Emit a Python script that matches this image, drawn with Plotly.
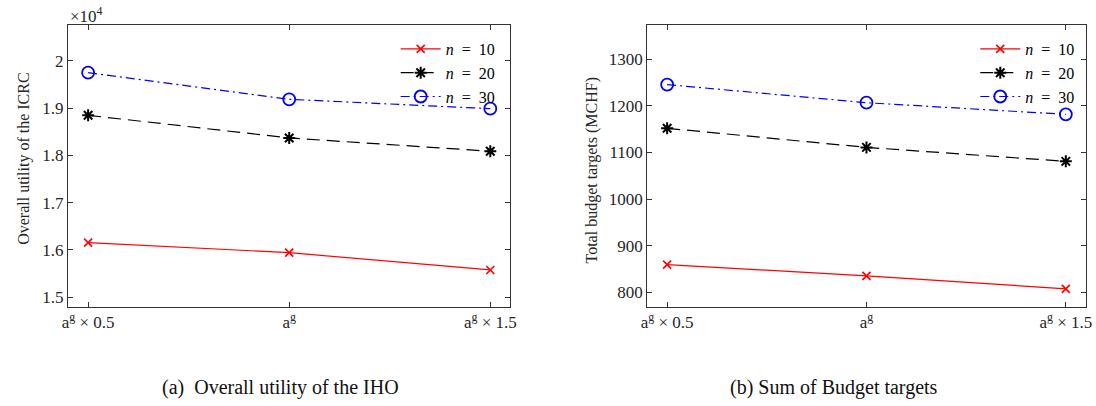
import plotly.graph_objects as go

# ---------------- data ----------------
categories = ["a<sup>g</sup> × 0.5", "a<sup>g</sup>", "a<sup>g</sup> × 1.5"]
series_names = ["<i>n</i>\u00a0\u00a0=\u00a0\u00a010", "<i>n</i>\u00a0\u00a0=\u00a0\u00a020",
                "<i>n</i>\u00a0\u00a0=\u00a0\u00a030"]

# (a) Overall utility (absolute values)
utility_n10 = [16155, 15943, 15578]
utility_n20 = [18846, 18367, 18086]
utility_n30 = [19747, 19184, 18986]

# (b) Total budget targets (MCHF)
budget_n10 = [859, 835, 807]
budget_n20 = [1152, 1111, 1081]
budget_n30 = [1246, 1207, 1182]

utility_ticks = [15000, 16000, 17000, 18000, 19000, 20000]
utility_ticktext = ["1.5", "1.6", "1.7", "1.8", "1.9", "2"]
budget_ticks = [800, 900, 1000, 1100, 1200, 1300]

# ---------------- styles ----------------
W, H = 1096, 406
FONT = "Liberation Serif, Times New Roman, serif"
AX = "#333333"
styles = [
    dict(color="#FF0000", dash="solid", symbol="x-thin-open", size=8, mlw=1.6),
    dict(color="#000000", dash="13px,7px", symbol="asterisk-open", size=10, mlw=2),
    dict(color="#0000FF", dash="9px,4px,2px,4px", symbol="circle-open", size=12, mlw=1.8),
]

x_idx = list(range(len(categories)))
fig = go.Figure()

for data, xa, ya, lg in [
    ([utility_n10, utility_n20, utility_n30], "x", "y", "legend"),
    ([budget_n10, budget_n20, budget_n30], "x2", "y2", "legend2"),
]:
    for vals, name, st in zip(data, series_names, styles):
        fig.add_trace(go.Scatter(
            x=x_idx, y=vals, name=name, mode="lines+markers",
            xaxis=xa, yaxis=ya, legend=lg,
            line=dict(color=st["color"], width=1.2, dash=st["dash"]),
            marker=dict(symbol=st["symbol"], size=st["size"], color=st["color"],
                        line=dict(color=st["color"], width=st["mlw"])),
        ))

def px_x(p):
    return p / W

def px_y(p):
    return 1 - p / H

common_axis = dict(
    showline=True, linecolor=AX, linewidth=1, mirror="allticks",
    ticks="inside", ticklen=5, tickcolor=AX, tickwidth=1,
    showgrid=False, zeroline=False,
    tickfont=dict(family=FONT, size=17, color="#262626"),
)

ydom = [px_y(307), px_y(25)]
legend_style = dict(yanchor="top", xanchor="left", bgcolor="rgba(0,0,0,0)",
                    borderwidth=0, itemwidth=40,
                    font=dict(family=FONT, size=16, color="#000"))
fig.update_layout(
    width=W, height=H, margin=dict(l=0, r=0, t=0, b=0),
    paper_bgcolor="white", plot_bgcolor="white",
    xaxis=dict(domain=[px_x(62.7), px_x(510)], range=[-0.1, 2.1],
               tickvals=x_idx, ticktext=categories, **common_axis),
    yaxis=dict(domain=ydom, range=[14795, 20754],
               tickvals=utility_ticks, ticktext=utility_ticktext, **common_axis),
    xaxis2=dict(domain=[px_x(648.3), px_x(1091.7)], range=[-0.1, 2.1],
                tickvals=x_idx, ticktext=categories, anchor="y2", **common_axis),
    yaxis2=dict(domain=ydom, range=[768, 1374], anchor="x2",
                tickvals=budget_ticks, **common_axis),
    legend=dict(x=px_x(394), y=px_y(32), **legend_style),
    legend2=dict(x=px_x(980), y=px_y(32), **legend_style),
    showlegend=True,
)

annotations = [
    dict(text="×10<sup>4</sup>", x=px_x(63), y=px_y(15), xanchor="left", yanchor="middle",
         font=dict(family=FONT, size=17, color="#262626")),
    dict(text="Overall utility of the ICRC", x=px_x(18), y=px_y(159), textangle=-90,
         xanchor="center", yanchor="middle", font=dict(family=FONT, size=16, color="#262626")),
    dict(text="Total budget targets (MCHF)", x=px_x(592), y=px_y(170), textangle=-90,
         xanchor="center", yanchor="middle", font=dict(family=FONT, size=16, color="#262626")),
    dict(text="(a)  Overall utility of the IHO", x=px_x(278), y=px_y(387),
         xanchor="center", yanchor="middle", font=dict(family=FONT, size=20, color="#111")),
    dict(text="(b) Sum of Budget targets", x=px_x(837), y=px_y(387),
         xanchor="center", yanchor="middle", font=dict(family=FONT, size=20, color="#111")),
]
for a in annotations:
    a.update(xref="paper", yref="paper", showarrow=False)
fig.update_layout(annotations=annotations)

fig.write_html("out.html")
